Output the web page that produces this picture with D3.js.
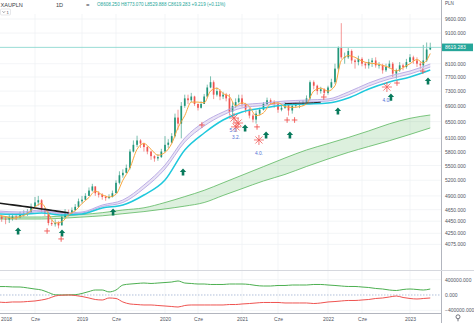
<!DOCTYPE html>
<html><head><meta charset="utf-8">
<script src="https://cdn.jsdelivr.net/npm/d3@7"></script>
<style>
body{margin:0;background:#fff}
svg{display:block}
text{font-family:"Liberation Sans",Arial,sans-serif}
</style></head>
<body><svg id="c" width="474" height="323"></svg>
<script>
// ---------------- DATA ----------------
const symbol = "XAUPLN", interval = "1D";
const ohlcText = "O8608.250 H8773.070 L8529.888 C8619.283 +9.219 (+0.11%)";
const lastPrice = 8619.283;
const firstOpen = 4480;
// semi-monthly candles (1st & 16th), Jan 2018 .. Apr 2023
const closes = [
 4530,4490,4480,4500,4530,4520,4560,4580,4600,4700,4780,4820,4650,4600,4420,4400,4420,4380,4520,4600,4580,4640,4700,4800,
 4830,4900,5000,5080,4950,4920,4880,4860,4880,4950,5150,5300,5350,5450,5800,5950,6050,5980,5900,5800,5700,5650,5680,5800,
 5950,6000,6150,6600,6450,6900,7100,7050,7150,6950,6850,6950,7150,7400,7550,7200,7300,7150,7200,7100,6750,6900,7000,7100,
 6950,6800,6650,6550,6700,6800,6950,7050,7000,6950,6800,6850,6950,6780,6900,6920,6950,6980,7100,7550,7450,7300,7350,7250,
 7400,7550,7950,8600,8300,8300,8500,8200,8150,8250,8100,8050,8150,8200,8050,8050,7900,8000,8100,7800,7900,8050,8000,8150,
 8300,8200,8100,8050,8200,8550,8619.283];
const highs = [
 4600,4560,4540,4560,4580,4580,4620,4640,4660,4760,4880,4900,4840,4680,4620,4470,4480,4450,4580,4660,4650,4690,4750,4850,
 4900,4950,5060,5130,5080,4990,4950,4910,4930,5000,5200,5380,5420,5520,5850,6050,6160,6080,6000,5920,5820,5720,5740,5860,
 6150,6080,6220,6700,6800,7000,7200,7200,7250,7170,6960,7020,7220,7480,7720,7600,7400,7350,7280,7250,7220,7000,7100,7200,
 7200,6980,6850,6700,6780,6850,7000,7120,7100,7050,7000,6930,7000,6980,6980,7000,7020,7050,7180,7600,7600,7480,7420,7380,
 7450,7650,8100,8650,9450,8450,8600,8550,8250,8350,8300,8150,8250,8280,8300,8150,8100,8100,8200,8150,7950,8150,8100,8250,
 8400,8350,8300,8150,8700,8780,8773];
const lows = [
 4480,4440,4400,4420,4460,4470,4500,4530,4540,4580,4700,4720,4600,4540,4380,4370,4360,4330,4380,4500,4530,4560,4620,4680,
 4760,4820,4900,4980,4900,4870,4830,4810,4840,4870,4950,5120,5250,5340,5420,5780,5900,5880,5800,5740,5620,5580,5600,5660,
 5800,5880,5980,6120,6300,6100,6850,6950,7000,6900,6780,6830,6950,7120,7380,7080,7150,7050,7080,7020,6650,6600,6850,6960,
 6880,6720,6580,6480,6450,6650,6780,6920,6940,6850,6720,6760,6820,6650,6700,6850,6840,6900,6950,7050,7350,7200,7230,7180,
 7200,7380,7500,7900,8250,8100,8250,8100,7950,8050,8020,7950,7950,8000,7980,7950,7800,7850,7950,7700,7650,7850,7900,7950,
 8150,8100,8000,7950,7980,8150,8530];

// monthly series, Jan 2018 .. Apr 2023
const orangeLine = [
 4550,4530,4500,4530,4580,4700,4760,4580,4420,4440,4560,4630,
 4760,4870,4990,4920,4880,4930,5200,5450,5850,5980,5850,5720,
 5780,5980,6350,6650,7000,7000,6980,7300,7380,7230,7150,6900,
 6980,6880,6650,6720,6950,6980,6880,6860,6880,6950,7300,7380,
 7300,7450,8200,8350,8300,8180,8120,8100,8050,7980,7880,7980,
 8100,8230,8120,8420];
const oscGreen = [
 220000,220000,210000,208000,185000,155000,130000,65000,5000,0,3000,8000,
 40000,90000,130000,130000,80000,130000,260000,285000,300000,312000,300000,312000,
 325000,338000,365000,312000,300000,286000,286000,274000,274000,274000,286000,286000,
 286000,274000,248000,234000,234000,248000,248000,260000,260000,260000,274000,274000,
 260000,248000,234000,222000,222000,208000,195000,170000,156000,130000,117000,143000,
 156000,143000,130000,156000];
const oscRed = [
 -182000,-195000,-182000,-182000,-170000,-156000,-130000,-91000,-26000,-5000,0,-13000,
 -39000,-78000,-117000,-130000,-78000,-91000,-182000,-234000,-248000,-260000,-260000,-274000,
 -287000,-300000,-313000,-274000,-260000,-260000,-260000,-260000,-260000,-260000,-248000,-248000,
 -234000,-222000,-208000,-195000,-195000,-195000,-208000,-208000,-208000,-208000,-222000,-208000,
 -182000,-170000,-156000,-143000,-143000,-130000,-117000,-91000,-78000,-52000,-26000,-65000,
 -91000,-104000,-91000,-78000];
// quarterly series, Jan 2018 .. Apr 2023
const greenTop = [4522,4522,4522,4539,4565,4597,4644,4683,4778,4887,5005,5150,5301,5477,5660,5835,5978,6118,6273,6445,6581,6665];
const greenBot = [4488,4488,4488,4500,4521,4543,4579,4616,4663,4713,4778,4908,5037,5186,5317,5480,5638,5781,5912,6044,6191,6345];
const lavTop  = [4627,4609,4644,4591,4609,4733,4824,5107,5510,6107,6490,6741,6923,6975,7029,7055,7083,7274,7527,7730,7878,8091];
const lavBot  = [4600,4583,4618,4574,4591,4706,4778,5040,5428,6014,6392,6665,6845,6910,6975,7002,7029,7191,7441,7642,7789,7999];
const cyanLine= [4574,4565,4591,4557,4574,4679,4733,4917,5206,5835,6224,6539,6741,6845,6923,6950,6975,7110,7357,7556,7701,7908];
// black line segments (monthly)
const blackEarly = [4770,4752,4735,4717,4700,4680,4663,4646,4628,4611,4594]; // from 2018-01
const blackLate  = [6960,6965,6970,6975,6985,6995];                          // from 2021-07

// signal markers
const arrowsUp = [["2018-03-24",4288],["2018-10-02",4255],["2019-05-19",4609],["2020-03-24",5366],["2021-01-14",6343],
  ["2021-04-12",6177],["2021-07-22",6177],["2022-02-14",6767],["2022-10-08",7136],["2023-03-22",7584]];
const redPlus = [["2018-07-26",4288],["2018-09-28",4160],["2020-06-20",6416],["2021-03-05",6370],["2021-07-10",6539],
  ["2021-08-11",6539],["2021-12-14",7136],["2022-11-04",7527],["2023-02-27",7875]];
const redStars = [["2020-11-23",6589],["2020-12-13",6465],["2020-12-03",6370],["2021-03-13",6061],["2022-09-20",7413]];
const blueLabels = [["2020-11-21",6295,"5.0."],["2020-12-03",6130,"3.2."],["2021-03-13",5768,"4.0."],["2022-09-18",7055,"4.0."]];

// axis ticks
const xTickDates = ["2018-01-01","2018-06-01","2019-01-01","2019-06-01","2020-01-01","2020-06-01","2021-01-01","2021-06-01","2022-01-01","2022-06-01","2023-01-01"];
const xTickLabels = ["2018","Cze","2019","Cze","2020","Cze","2021","Cze","2022","Cze","2023"];
const priceTicks = [9600,9100,8100,7700,7300,6900,6500,6100,5800,5500,5200,4900,4650,4450,4250,4075];
const oscTicks = [400000,0,-400000];

// ---------------- BUILD ----------------
const parse = d3.timeParse("%Y-%m-%d");
const candleDates = [];
for (let yr=2018; yr<=2023; yr++) for (let m=0; m<12; m++) for (const d of [1,16]) {
  const dt = new Date(yr,m,d); if (dt <= new Date(2023,3,1)) candleDates.push(dt);
}
const monthDates = []; for (let i=0;i<64;i++) monthDates.push(new Date(2018, i, 1));
const quarterDates = []; for (let i=0;i<22;i++) quarterDates.push(new Date(2018, i*3, 1));
const candles = candleDates.map((d,i)=>({d, o: i? closes[i-1] : firstOpen, h: highs[i], l: lows[i], c: closes[i]}));

const W=474, H=323, R=441, mainTop=14, mainBot=270, oscTop=271, oscBot=313;
const svg = d3.select("#c");

// time scale piecewise (trading-day spacing)
const x = d3.scaleTime()
  .domain(["2018-01-01","2018-06-01","2019-01-01","2019-06-01","2020-01-01","2020-06-01","2021-01-01","2021-06-01","2022-01-01","2022-06-01","2023-01-01","2023-06-01"].map(parse))
  .range([-2,35,82,116,165,198,242,278,328,362,410,444]);
const y = d3.scaleLog().domain([3725, 9748]).range([268, 15]);
const yo = d3.scaleLinear().domain([-469000, 625000]).range([oscBot, oscTop]);

const defs = svg.append("defs");
defs.append("clipPath").attr("id","cm").append("rect").attr("x",0).attr("y",mainTop).attr("width",R).attr("height",mainBot-mainTop);
defs.append("clipPath").attr("id","co").append("rect").attr("x",0).attr("y",oscTop).attr("width",R).attr("height",oscBot-oscTop);

// grid
const grid = svg.append("g").attr("stroke","#eef0f4").attr("stroke-width",0.7);
xTickDates.map(parse).forEach(d=>{
  grid.append("line").attr("x1",x(d)).attr("x2",x(d)).attr("y1",mainTop).attr("y2",oscBot);
});
priceTicks.forEach(v=>{
  grid.append("line").attr("x1",0).attr("x2",R).attr("y1",y(v)).attr("y2",y(v));
});
oscTicks.filter(v=>v!==0).forEach(v=>{
  grid.append("line").attr("x1",0).attr("x2",R).attr("y1",yo(v)).attr("y2",yo(v));
});

const main = svg.append("g").attr("clip-path","url(#cm)");

// green band
const qd = quarterDates;
main.append("path").datum(qd.map((d,i)=>[d,greenTop[i],greenBot[i]]))
  .attr("fill","rgba(102,187,106,0.22)")
  .attr("d", d3.area().x(d=>x(d[0])).y0(d=>y(d[2])).y1(d=>y(d[1])).curve(d3.curveMonotoneX));
[greenTop, greenBot].forEach(arr=>{
  main.append("path").datum(arr).attr("fill","none").attr("stroke","#5cb860").attr("stroke-width",0.8)
    .attr("d", d3.line().x((v,i)=>x(qd[i])).y(v=>y(v)).curve(d3.curveMonotoneX));
});
// lavender band
main.append("path").datum(qd.map((d,i)=>[d,lavTop[i],lavBot[i]]))
  .attr("fill","rgba(179,157,219,0.28)")
  .attr("d", d3.area().x(d=>x(d[0])).y0(d=>y(d[2])).y1(d=>y(d[1])).curve(d3.curveMonotoneX));

// candles
const cg = main.append("g");
const bw = 1.7;
cg.selectAll("line.w").data(candles).join("line")
  .attr("x1",d=>x(d.d)).attr("x2",d=>x(d.d)).attr("y1",d=>y(d.h)).attr("y2",d=>y(d.l))
  .attr("stroke",d=>d.c>=d.o?"#22967a":"#ef5350").attr("stroke-width",0.6);
cg.selectAll("rect").data(candles).join("rect")
  .attr("x",d=>x(d.d)-bw/2).attr("width",bw)
  .attr("y",d=>y(Math.max(d.o,d.c))).attr("height",d=>Math.max(0.7, Math.abs(y(d.o)-y(d.c))))
  .attr("fill",d=>d.c>=d.o?"#22967a":"#ef5350");

// lines on top
[lavTop, lavBot].forEach(arr=>{
  main.append("path").datum(arr).attr("fill","none").attr("stroke","#b6a6e3").attr("stroke-width",0.9)
    .attr("d", d3.line().x((v,i)=>x(qd[i])).y(v=>y(v)).curve(d3.curveMonotoneX));
});
main.append("path").datum(cyanLine).attr("fill","none").attr("stroke","#1fc8dc").attr("stroke-width",1.5)
  .attr("d", d3.line().x((v,i)=>x(qd[i])).y(v=>y(v)).curve(d3.curveMonotoneX));
main.append("path").datum(orangeLine).attr("fill","none").attr("stroke","#f9a53c").attr("stroke-width",1)
  .attr("d", d3.line().x((v,i)=>x(monthDates[i])).y(v=>y(v)).curve(d3.curveMonotoneX));
main.append("path").datum(blackEarly).attr("fill","none").attr("stroke","#1b1b1b").attr("stroke-width",1.6)
  .attr("d", d3.line().x((v,i)=>x(new Date(2018,i,1))).y(v=>y(v)).curve(d3.curveMonotoneX));
main.append("path").datum(blackLate).attr("fill","none").attr("stroke","#2a2a2a").attr("stroke-width",1)
  .attr("d", d3.line().x((v,i)=>x(new Date(2021,6+i,1))).y(v=>y(v)).curve(d3.curveMonotoneX));

// price line
main.append("line").attr("x1",0).attr("x2",R).attr("y1",y(lastPrice)).attr("y2",y(lastPrice))
  .attr("stroke","#7fd3cb").attr("stroke-width",0.8);

// markers
const mk = main.append("g");
arrowsUp.forEach(([d,v])=>{
  mk.append("path").attr("transform",`translate(${x(parse(d))},${y(v)})`)
    .attr("d","M0,-3.6 L3.2,0 L1.3,0 L1.3,3.6 L-1.3,3.6 L-1.3,0 L-3.2,0 Z").attr("fill","#087a5c");
});
redPlus.forEach(([d,v])=>{
  const g = mk.append("g").attr("transform",`translate(${x(parse(d))},${y(v)})`).attr("stroke","#ef5350").attr("stroke-width",0.9);
  g.append("line").attr("x1",-2.8).attr("x2",2.8);
  g.append("line").attr("y1",-2.8).attr("y2",2.8);
});
redStars.forEach(([d,v])=>{
  const g = mk.append("g").attr("transform",`translate(${x(parse(d))},${y(v)})`).attr("stroke","#f05a58").attr("stroke-width",0.8);
  [0,45,90,135].forEach(a=>{
    const r=5, t=a*Math.PI/180;
    g.append("line").attr("x1",-r*Math.cos(t)).attr("y1",-r*Math.sin(t)).attr("x2",r*Math.cos(t)).attr("y2",r*Math.sin(t));
  });
});
blueLabels.forEach(([d,v,t])=>{
  mk.append("text").attr("x",x(parse(d))).attr("y",y(v)).attr("dy","0.35em").attr("text-anchor","middle")
    .attr("font-size",4.8).attr("fill","#4f6fd6").text(t);
});

// oscillator pane
const osc = svg.append("g").attr("clip-path","url(#co)");
osc.append("line").attr("x1",0).attr("x2",R).attr("y1",yo(0)).attr("y2",yo(0))
  .attr("stroke","#8fa3c8").attr("stroke-width",0.7).attr("stroke-dasharray","1.5,1.5");
osc.append("path").datum(oscGreen).attr("fill","none").attr("stroke","#4caf50").attr("stroke-width",1)
  .attr("d", d3.line().x((v,i)=>x(monthDates[i])).y(v=>yo(v)).curve(d3.curveMonotoneX));
osc.append("path").datum(oscRed).attr("fill","none").attr("stroke","#ef5350").attr("stroke-width",1)
  .attr("d", d3.line().x((v,i)=>x(monthDates[i])).y(v=>yo(v)).curve(d3.curveMonotoneX));

// frame lines
svg.append("line").attr("x1",R+0.5).attr("x2",R+0.5).attr("y1",0).attr("y2",H).attr("stroke","#b2b5be").attr("stroke-width",1);
svg.append("line").attr("x1",0).attr("x2",W).attr("y1",mainBot+0.5).attr("y2",mainBot+0.5).attr("stroke","#d6d8de").attr("stroke-width",1);
svg.append("line").attr("x1",0).attr("x2",R).attr("y1",oscBot+0.5).attr("y2",oscBot+0.5).attr("stroke","#b2b5be").attr("stroke-width",1);

// axes
function styleAxis(g){ g.select(".domain").remove(); g.selectAll("text").attr("font-size",5).attr("fill","#50535e").attr("font-family","Liberation Sans, Arial, sans-serif"); }
svg.append("g").attr("transform",`translate(${R},0)`)
  .call(d3.axisRight(y).tickValues(priceTicks).tickFormat(d3.format(".3f")).tickSize(0).tickPadding(4)).call(styleAxis);
svg.append("g").attr("transform",`translate(${R},0)`)
  .call(d3.axisRight(yo).tickValues(oscTicks).tickFormat(d3.format(".3f")).tickSize(0).tickPadding(4)).call(styleAxis);
const xa = svg.append("g").attr("transform",`translate(0,${oscBot})`)
  .call(d3.axisBottom(x).tickValues(xTickDates.map(parse)).tickFormat((d,i)=>xTickLabels[i]).tickSize(0).tickPadding(4)).call(styleAxis);
// keep the first (partly off-canvas) label inside the picture
xa.selectAll(".tick").filter((d,i)=>i===0).select("text").attr("text-anchor","start").attr("x",2.5);

// price label
svg.append("rect").attr("x",R+1).attr("y",y(lastPrice)-3.8).attr("width",31).attr("height",7.6).attr("fill","#26a69a");
svg.append("text").attr("x",R+4).attr("y",y(lastPrice)).attr("dy","0.35em").attr("font-size",5).attr("fill","#fff").text(lastPrice.toFixed(3));

// currency
svg.append("text").attr("x",R+4).attr("y",5).attr("font-size",4.6).attr("fill","#50535e").text("PLN");

// header
svg.append("text").attr("x",0.5).attr("y",6.5).attr("font-size",5.6).attr("fill","#3a3d45").text(symbol);
svg.append("text").attr("x",56).attr("y",6.5).attr("font-size",5.6).attr("fill","#3a3d45").text(interval);
svg.append("text").attr("x",86).attr("y",6.8).attr("font-size",6).attr("fill","#3a3d45").text("=");
svg.append("text").attr("x",97).attr("y",6.3).attr("font-size",4.6).attr("fill","#26a69a").text(ohlcText);
svg.append("rect").attr("x",0.5).attr("y",9).attr("width",10).attr("height",6).attr("rx",1).attr("fill","none").attr("stroke","#d6d8de").attr("stroke-width",0.6);
svg.append("path").attr("d","M2.5,11.3 L3.8,12.6 L5.1,11.3").attr("fill","none").attr("stroke","#50535e").attr("stroke-width",0.6);
svg.append("text").attr("x",6.5).attr("y",13.6).attr("font-size",4.2).attr("fill","#50535e").text("1");

// gear icon
svg.append("circle").attr("cx",458).attr("cy",316.8).attr("r",2).attr("fill","none").attr("stroke","#50535e").attr("stroke-width",0.8);
svg.append("line").attr("x1",458).attr("x2",458).attr("y1",318.8).attr("y2",321.3).attr("stroke","#50535e").attr("stroke-width",0.8);
</script></body></html>
